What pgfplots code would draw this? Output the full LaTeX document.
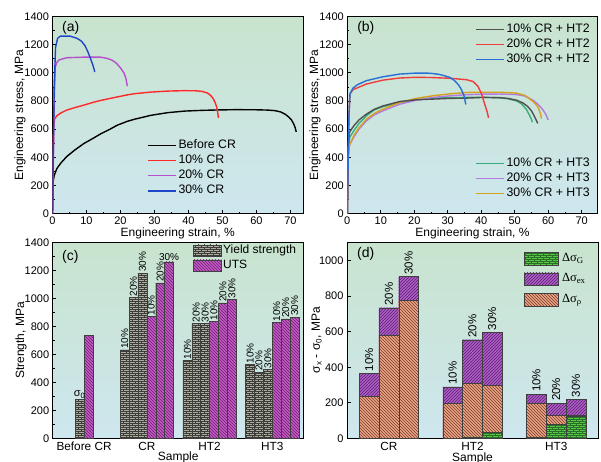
\documentclass[border=0pt]{standalone}
\usepackage{pgfplots}
\pgfplotsset{compat=1.18}
\usepackage{fontspec}
\setmainfont{Liberation Sans}
\newfontfamily\seriffont{Liberation Serif}
\usetikzlibrary{patterns}

\definecolor{bgtop}{RGB}{200,228,206}
\definecolor{bgbot}{RGB}{206,230,238}
\definecolor{cA10}{RGB}{255,40,40}
\definecolor{cA20}{RGB}{180,80,205}
\definecolor{cA30}{RGB}{30,70,200}
\definecolor{cB1}{RGB}{80,80,80}
\definecolor{cB2}{RGB}{240,60,60}
\definecolor{cB3}{RGB}{40,110,215}
\definecolor{cH1}{RGB}{55,175,120}
\definecolor{cH2}{RGB}{175,125,225}
\definecolor{cH3}{RGB}{215,160,30}
\definecolor{yfill}{RGB}{172,172,160}
\definecolor{yline}{RGB}{60,60,55}
\definecolor{ufill}{RGB}{195,90,195}
\definecolor{uline}{RGB}{110,30,115}
\definecolor{rfill}{RGB}{235,165,135}
\definecolor{rline}{RGB}{120,60,40}
\definecolor{efill}{RGB}{175,95,200}
\definecolor{eline}{RGB}{90,30,110}
\definecolor{gfill}{RGB}{90,200,70}
\definecolor{gline}{RGB}{40,110,40}

\pgfdeclarepatternformonly{smallbricks}{\pgfqpoint{-0.5pt}{-0.5pt}}{\pgfqpoint{6.5pt}{4.5pt}}{\pgfqpoint{6pt}{4pt}}{%
  \pgfsetlinewidth{0.4pt}%
  \pgfpathmoveto{\pgfqpoint{0pt}{0pt}}\pgfpathlineto{\pgfqpoint{6pt}{0pt}}%
  \pgfpathmoveto{\pgfqpoint{0pt}{2pt}}\pgfpathlineto{\pgfqpoint{6pt}{2pt}}%
  \pgfpathmoveto{\pgfqpoint{0pt}{0pt}}\pgfpathlineto{\pgfqpoint{0pt}{2pt}}%
  \pgfpathmoveto{\pgfqpoint{3pt}{2pt}}\pgfpathlineto{\pgfqpoint{3pt}{4pt}}%
  \pgfusepath{stroke}}

\newcommand{\fs}[1]{\fontsize{#1}{#1}\selectfont}

\pgfplotsset{
  panel/.style={
    scale only axis,
    tick pos=left, tick align=inside,
    axis background/.style={top color=bgtop, bottom color=bgbot},
    /pgf/number format/assume math mode=true,
    /pgf/number format/set thousands separator={},
    scaled ticks=false,
    tick label style={font=\fs{11}},
    label style={font=\fs{12}},
    major tick length=3.5pt, minor tick length=2pt,
    every tick/.style={black, line width=0.6pt},
    axis line style={line width=0.7pt},
  },
  overlay/.style={scale only axis, hide axis, axis background/.style={draw=none, fill=none}},
  curve/.style={line width=1.4pt},
  linelegend/.style={
    legend style={draw=none, fill=none, font=\fs{12.3}, inner sep=0pt, row sep=0pt,
      nodes={inner sep=2pt, text height=8.7pt, text depth=2.5pt}},
    legend image code/.code={\draw[##1, line width=1.4pt] (0pt,0pt) -- (28pt,0pt);},
    legend cell align=left,
  },
  ybarY/.style={ybar, bar shift=0pt, draw=black!75, line width=0.4pt, fill=yfill,
    postaction={pattern=smallbricks, pattern color=yline}},
  ybarU/.style={ybar, bar shift=0pt, draw=black!75, line width=0.4pt, fill=ufill,
    postaction={pattern=north west lines, pattern color=uline}},
  ybarG/.style={ybar, bar shift=0pt, draw=black!75, line width=0.4pt, fill=gfill,
    postaction={pattern=smallbricks, pattern color=gline}},
  ybarE/.style={ybar, bar shift=0pt, draw=black!75, line width=0.4pt, fill=efill,
    postaction={pattern=north east lines, pattern color=eline}},
  ybarR/.style={ybar, bar shift=0pt, draw=black!75, line width=0.4pt, fill=rfill,
    postaction={pattern=north west lines, pattern color=rline}},
}

\begin{document}
\begin{tikzpicture}
\useasboundingbox (0,0) rectangle (601pt,461pt);

% ---------------- (a)
\begin{axis}[panel, linelegend, at={(52.5pt,247.5pt)}, anchor=south west,
  width=250.5pt, height=197pt,
  xmin=0, xmax=73.7, ymin=0, ymax=1400,
  xtick={0,10,...,70}, ytick={0,200,...,1400}, minor tick num=1,
  xlabel={Engineering strain, \%}, ylabel={Engineering stress, MPa},
  xlabel style={at={(axis description cs:0.5,-0.1)}, anchor=center},
  ylabel style={at={(axis description cs:-0.13,0.5)}, anchor=center},
  legend style={at={(0.377,0.386)}, anchor=north west},
]
\addplot[curve, black] coordinates {(0,0) (0.2,230) (0.5,270) (1.3,320) (2.5,360) (4.2,405) (6.5,450) (9.2,497) (12,535) (14.1,565) (17,600) (19,627) (22,655) (24,669) (29,698) (34,717) (39,728) (44,733) (49,736) (54,738) (60,737) (63.3,735) (65.5,731) (67.2,721) (68.5,705) (69.5,686) (70.3,665) (70.9,640) (71.4,610) (71.7,580)};
\addlegendentry{Before CR}
\addplot[curve, cA10] coordinates {(0,0) (0.3,600) (0.6,670) (1.3,695) (2.5,715) (4.2,735) (6.5,752) (9.2,770) (12,790) (14.1,803) (17,818) (19,828) (22,843) (24,851) (29,863) (34,870) (38.7,873) (42,872) (44,868) (45.6,856) (46.5,840) (47.3,816) (47.9,785) (48.3,757) (48.6,720) (48.8,680)};
\addlegendentry{10\% CR}
\addplot[curve, cA20] coordinates {(0,0) (0.5,800) (0.8,1040) (1.3,1075) (2,1092) (4.2,1107) (9.2,1111) (14.1,1111) (16,1103) (17.5,1090) (18.8,1068) (20,1035) (21,1000) (21.6,960) (21.9,920) (22,905)};
\addlegendentry{20\% CR}
\addplot[curve, cA30] coordinates {(0,0) (0.5,900) (0.9,1180) (1.5,1245) (2.3,1260) (5.2,1260) (7.2,1245) (8.5,1225) (9.5,1195) (10.4,1150) (11.2,1100) (11.8,1060) (12.3,1020) (12.4,1005)};
\addlegendentry{30\% CR}
\node[anchor=north west, inner sep=0pt, font=\fs{14}] at (rel axis cs:0.038,0.975) {(a)};
\end{axis}

% ---------------- (b)
\begin{axis}[panel, linelegend, at={(347.3pt,247.5pt)}, anchor=south west,
  width=250.4pt, height=197pt,
  xmin=0, xmax=74.8, ymin=0, ymax=1400,
  xtick={0,10,...,70}, ytick={0,200,...,1400}, minor tick num=1,
  xlabel={Engineering strain, \%}, ylabel={Engineering stress, MPa},
  xlabel style={at={(axis description cs:0.5,-0.1)}, anchor=center},
  ylabel style={at={(axis description cs:-0.129,0.5)}, anchor=center},
  legend style={at={(0.51,0.975)}, anchor=north west},
]
\addplot[curve, cH1, forget plot] coordinates {(0,0) (0.3,460) (0.7,540) (2,590) (3.5,640) (5.7,694) (8,735) (10.7,760) (15.7,789) (20.6,808) (25.6,820) (30.6,823) (35.6,825) (40.6,826) (45.6,822) (48,815) (50.6,800) (52,780) (53.5,740) (54.4,700) (55,670) (55.3,648)};
\addplot[curve, cH2, forget plot] coordinates {(0,0) (0.3,420) (0.7,490) (2,545) (3.5,600) (5.7,658) (8,700) (10.7,730) (15.7,777) (20.6,805) (25.6,825) (30.6,836) (35.6,844) (40.6,848) (45.6,849) (50.6,845) (53,835) (55.5,805) (57,775) (58.5,735) (59.4,700) (60,665)};
\addplot[curve, cH3, forget plot] coordinates {(0,0) (0.3,420) (0.7,490) (2,555) (3.5,610) (5.7,670) (8,710) (10.7,742) (15.7,789) (20.6,818) (25.6,837) (30.6,850) (35.6,860) (40.6,862) (45.6,862) (50.6,855) (53,840) (54.5,815) (56,785) (57,755) (57.7,710) (58,675)};
\addplot[curve, cB1] coordinates {(0,0) (0.3,500) (0.7,580) (2,625) (3.5,665) (5.7,706) (8,740) (10.7,765) (15.7,796) (20.6,808) (25.6,813) (30.6,818) (35.6,820) (40.6,825) (45.6,823) (48,818) (50.6,805) (52.5,785) (53.9,760) (55,730) (55.9,690) (56.5,660) (56.9,640)};
\addlegendentry{10\% CR + HT2}
\addplot[curve, cB2] coordinates {(0,0) (0.5,700) (0.8,850) (1.7,880) (5.7,920) (10.7,948) (15.7,963) (20.6,968) (25.6,966) (30.6,961) (35.6,951) (37.6,938) (39,905) (40.1,850) (41,780) (41.8,720) (42.2,680)};
\addlegendentry{20\% CR + HT2}
\addplot[curve, cB3] coordinates {(0,0) (0.5,700) (0.8,850) (1.7,891) (3,915) (5.7,944) (10.7,972) (15.7,991) (20.6,998) (23.6,998) (25.5,995) (27.6,988) (30.6,968) (32,945) (33.2,915) (34.1,880) (34.8,840) (35.2,800) (35.4,775)};
\addlegendentry{30\% CR + HT2}
\node[anchor=north west, inner sep=0pt, font=\fs{14}] at (rel axis cs:0.039,0.975) {(b)};
\end{axis}
\begin{axis}[overlay, linelegend, at={(347.3pt,247.5pt)}, anchor=south west,
  width=250.4pt, height=197pt,
  xmin=0, xmax=74.8, ymin=0, ymax=1400,
  legend style={at={(0.51,0.294)}, anchor=north west},
]
\addlegendimage{cH1}\addlegendentry{10\% CR + HT3}
\addlegendimage{cH2}\addlegendentry{20\% CR + HT3}
\addlegendimage{cH3}\addlegendentry{30\% CR + HT3}
\end{axis}

% ---------------- (c)
\begin{axis}[panel, at={(52.7pt,22.7pt)}, anchor=south west,
  width=251pt, height=195.6pt,
  xmin=-0.5, xmax=3.5, ymin=0, ymax=1400,
  ytick={0,200,...,1400}, minor y tick num=1,
  xtick={0,1,2,3}, xticklabels={Before CR,CR,HT2,HT3},
  x tick label style={font=\fs{11.8}}, major x tick style={draw=none},
  xlabel={Sample}, ylabel={Strength, MPa},
  xlabel style={at={(axis description cs:0.5,-0.1)}, anchor=center},
  ylabel style={at={(axis description cs:-0.126,0.5)}, anchor=center},
  bar width=0.1417,
  legend style={at={(0.559,1.0)}, anchor=north west, draw=none, fill=none, font=\fs{12},
    inner sep=0pt, row sep=0pt, nodes={inner sep=1.5pt, text height=9pt, text depth=3pt}},
  legend cell align=left,
  point meta=explicit symbolic,
]
\addplot[ybarY, forget plot, nodes near coords, nodes near coords style={font=\fs{11}, anchor=south, inner sep=1pt}]
  coordinates {(-0.0709,279) [σ\textsubscript{0}]};
\addplot[ybarU, forget plot] coordinates {(0.0709,735)};
\addplot[ybarY, forget plot, nodes near coords, nodes near coords style={font=\fs{10}, rotate=90, anchor=west, inner sep=1pt}]
  coordinates {(0.6457,633) [10\%] (0.7874,1008) [20\%] (0.9291,1183) [30\%]
  (1.6457,558) [10\%] (1.7874,822) [20\%] (1.9291,822) [30\%]
  (2.6457,527) [10\%] (2.7874,474) [20\%] (2.9291,493) [30\%]};
\addplot[ybarU, forget plot, nodes near coords, nodes near coords style={font=\fs{10}, rotate=90, anchor=west, inner sep=1pt}]
  coordinates {(1.0709,873) [10\%] (1.2126,1112) [20\%]
  (2.0709,835) [10\%] (2.2126,970) [20\%] (2.3543,993) [30\%]
  (3.0709,828) [10\%] (3.2126,855) [20\%] (3.3543,868) [30\%]};
\addplot[ybarU, forget plot, nodes near coords, nodes near coords style={font=\fs{10}, anchor=south, inner sep=1.5pt}]
  coordinates {(1.3543,1262) [30\%]};
\addlegendimage{legend image code/.code={\draw[draw=black!75, fill=yfill, postaction={pattern=smallbricks, pattern color=yline}] (0pt,-5.5pt) rectangle (28pt,5.5pt);}}
\addlegendentry{Yield strength}
\addlegendimage{legend image code/.code={\draw[draw=black!75, fill=ufill, postaction={pattern=north west lines, pattern color=uline}] (0pt,-5.5pt) rectangle (28pt,5.5pt);}}
\addlegendentry{UTS}
\node[anchor=north west, inner sep=0pt, font=\fs{14}] at (rel axis cs:0.037,0.963) {(c)};
\end{axis}

% ---------------- (d)  cumulative heights: total (ex on top), rho top, G
\begin{axis}[panel, at={(347pt,22.7pt)}, anchor=south west,
  width=251pt, height=196.3pt,
  xmin=-0.5, xmax=2.5, ymin=0, ymax=1105,
  ytick={0,200,...,1000},
  xtick={0,1,2}, xticklabels={CR,HT2,HT3},
  x tick label style={font=\fs{11.8}}, major x tick style={draw=none},
  xlabel={Sample}, ylabel={σ\textsubscript{x} - σ\textsubscript{0}, MPa},
  xlabel style={at={(axis description cs:0.5,-0.1)}, anchor=center},
  ylabel style={at={(axis description cs:-0.121,0.5)}, anchor=center},
  bar width=0.236,
  point meta=explicit symbolic,
]
\addplot[ybarE, forget plot, nodes near coords,
  nodes near coords style={font=\fs{11.5}, rotate=90, anchor=west, inner sep=2pt}]
  coordinates {(-0.236,365) [10\%] (0,735) [20\%] (0.236,910) [30\%] (0.764,290) [10\%] (1,555) [20\%] (1.236,597) [30\%] (1.764,249) [10\%] (2,198) [20\%] (2.236,218) [30\%]};
\addplot[ybarR, forget plot]
  coordinates {(-0.236,235) (0,580) (0.236,775) (0.764,195) (1,308) (1.236,298) (1.764,197) (2,128) (2.236,130)};
\addplot[ybarG, forget plot]
  coordinates {(1,8) (1.236,35) (1.764,5) (2,80) (2.236,125)};
\node[anchor=north west, inner sep=0pt, font=\fs{14}] at (rel axis cs:0.04,0.974) {(d)};
\end{axis}
\begin{axis}[overlay, at={(347pt,22.7pt)}, anchor=south west,
  width=251pt, height=196.3pt,
  xmin=-0.5, xmax=2.5, ymin=0, ymax=1105,
  legend style={at={(0.705,0.968)}, anchor=north west, draw=none, fill=none, font=\fs{12.5}\seriffont,
    inner sep=0pt, row sep=0pt, nodes={inner sep=3.5pt, text height=9.5pt, text depth=4pt}},
  legend cell align=left,
]
\addlegendimage{legend image code/.code={\draw[draw=black!75, fill=gfill, postaction={pattern=smallbricks, pattern color=gline}] (0pt,-6.25pt) rectangle (34pt,6.25pt);}}
\addlegendentry{Δσ\textsubscript{G}}
\addlegendimage{legend image code/.code={\draw[draw=black!75, fill=efill, postaction={pattern=north east lines, pattern color=eline}] (0pt,-6.25pt) rectangle (34pt,6.25pt);}}
\addlegendentry{Δσ\textsubscript{ex}}
\addlegendimage{legend image code/.code={\draw[draw=black!75, fill=rfill, postaction={pattern=north west lines, pattern color=rline}] (0pt,-6.25pt) rectangle (34pt,6.25pt);}}
\addlegendentry{Δσ\textsubscript{ρ}}
\end{axis}
\end{tikzpicture}
\end{document}
